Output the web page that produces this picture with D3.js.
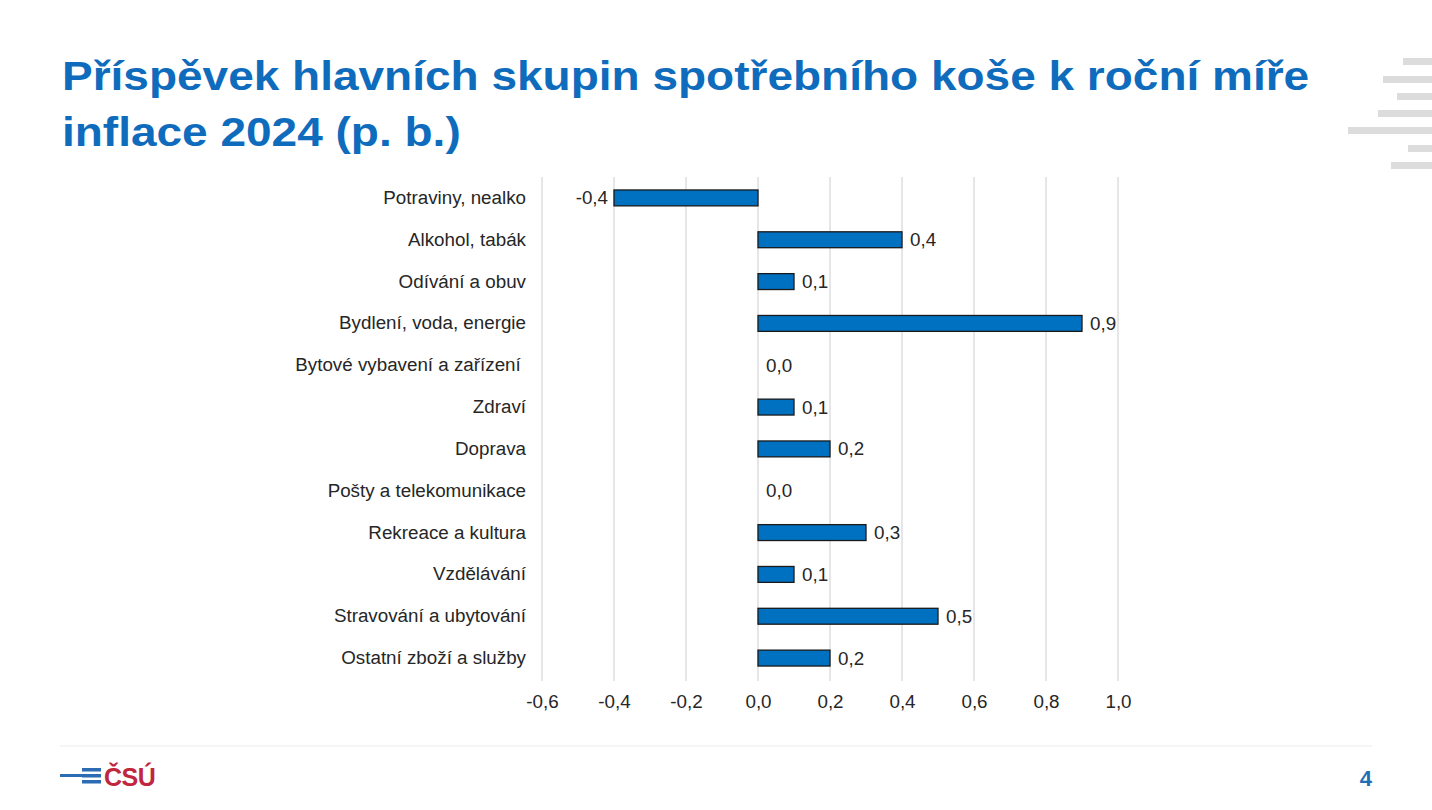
<!DOCTYPE html>
<html><head><meta charset="utf-8">
<script src="https://cdn.jsdelivr.net/npm/d3@7"></script>
<style>body{margin:0;background:#fff}svg{display:block;font-family:"Liberation Sans",Arial,sans-serif}</style>
</head><body><svg id="c" width="1432" height="810"></svg>
<script>
const categories = ["Potraviny, nealko","Alkohol, tabák","Odívání a obuv","Bydlení, voda, energie","Bytové vybavení a zařízení ","Zdraví","Doprava","Pošty a telekomunikace","Rekreace a kultura","Vzdělávání","Stravování a ubytování","Ostatní zboží a služby"];
const values = [-0.4,0.4,0.1,0.9,0.0,0.1,0.2,0.0,0.3,0.1,0.5,0.2];
const tickValues = [-0.6,-0.4,-0.2,0.0,0.2,0.4,0.6,0.8,1.0];
const titleLines = ["Příspěvek hlavních skupin spotřebního koše k roční míře","inflace 2024 (p. b.)"];
const decoBars = [[58,29],[76,49],[93,35],[110,54],[127,84],[145,24],[162,41]];

const svg = d3.select("#c");
const fmt = v => d3.format(".1f")(v).replace(".", ",").replace("−","-");
const x = d3.scaleLinear().domain([-0.6,1.0]).range([542,1118]);
const y = d3.scaleBand().domain(categories).range([177,679]).paddingInner(0.62).paddingOuter(0.31);
const FS = 18.8;

// title (horizontally stretched like the reference)
svg.append("g").attr("transform","translate(62,0) scale(1.15,1)")
  .selectAll("text").data(titleLines).join("text")
  .attr("x",0).attr("y",(d,i)=>90+i*56)
  .attr("fill","#0f6cbd").attr("font-weight","bold").attr("font-size",40)
  .text(d=>d);

// decoration
svg.append("g").selectAll("rect").data(decoBars).join("rect")
  .attr("x",d=>1432-d[1]).attr("y",d=>d[0]).attr("width",d=>d[1]).attr("height",7)
  .attr("fill","#dcdcdc");

// gridlines
svg.append("g").selectAll("line").data(tickValues).join("line")
  .attr("x1",d=>x(d)).attr("x2",d=>x(d)).attr("y1",177).attr("y2",681)
  .attr("stroke","#d9d9d9").attr("stroke-width",1.3);

// x axis
const xAxis = d3.axisBottom(x).tickValues(tickValues).tickSize(0).tickPadding(0).tickFormat(fmt);
const gx = svg.append("g").attr("transform","translate(0,689)").call(xAxis);
gx.select(".domain").remove();
gx.selectAll("text").attr("font-size",FS).attr("fill","#262626").attr("font-family","Liberation Sans, Arial, sans-serif").attr("dy","1em");

// y axis labels
const yAxis = d3.axisLeft(y).tickSize(0).tickPadding(0);
const gy = svg.append("g").attr("transform","translate(526,0)").call(yAxis);
gy.select(".domain").remove();
gy.selectAll("text").attr("font-size",FS).attr("fill","#262626").attr("font-family","Liberation Sans, Arial, sans-serif").style("white-space","pre");

// bars
svg.append("g").selectAll("rect").data(values).join("rect")
  .attr("x",d=>x(Math.min(0,d))).attr("y",(d,i)=>y(categories[i]))
  .attr("width",d=>Math.abs(x(d)-x(0))).attr("height",y.bandwidth())
  .attr("fill",d=>d===0?"none":"#0070c0").attr("stroke",d=>d===0?"none":"#1a1a1a").attr("stroke-width",1.3);

// value labels
svg.append("g").selectAll("text").data(values).join("text")
  .attr("x",d=>d<0?x(d)-6:x(d)+8)
  .attr("y",(d,i)=>y(categories[i])+y.bandwidth()/2)
  .attr("dy","0.35em").attr("text-anchor",d=>d<0?"end":"start")
  .attr("font-size",FS).attr("fill","#262626").text(fmt);

// footer
svg.append("line").attr("x1",60).attr("x2",1372).attr("y1",746).attr("y2",746).attr("stroke","#ececec").attr("stroke-width",1.2);
const logo = svg.append("g");
logo.append("rect").attr("x",60).attr("y",774).attr("width",40).attr("height",3).attr("fill","#2b6cb3");
[768,774,780].forEach(yy=>logo.append("rect").attr("x",82).attr("y",yy).attr("width",19).attr("height",3.5).attr("fill","#2b6cb3"));
logo.append("text").attr("x",104).attr("y",786).attr("font-size",25).attr("font-weight","bold").attr("fill","#c0263d").attr("letter-spacing",-0.5).text("ČSÚ");
svg.append("text").attr("x",1372).attr("y",786).attr("text-anchor","end").attr("font-size",22).attr("font-weight","bold").attr("fill","#1f6fb5").text("4");
</script></body></html>
